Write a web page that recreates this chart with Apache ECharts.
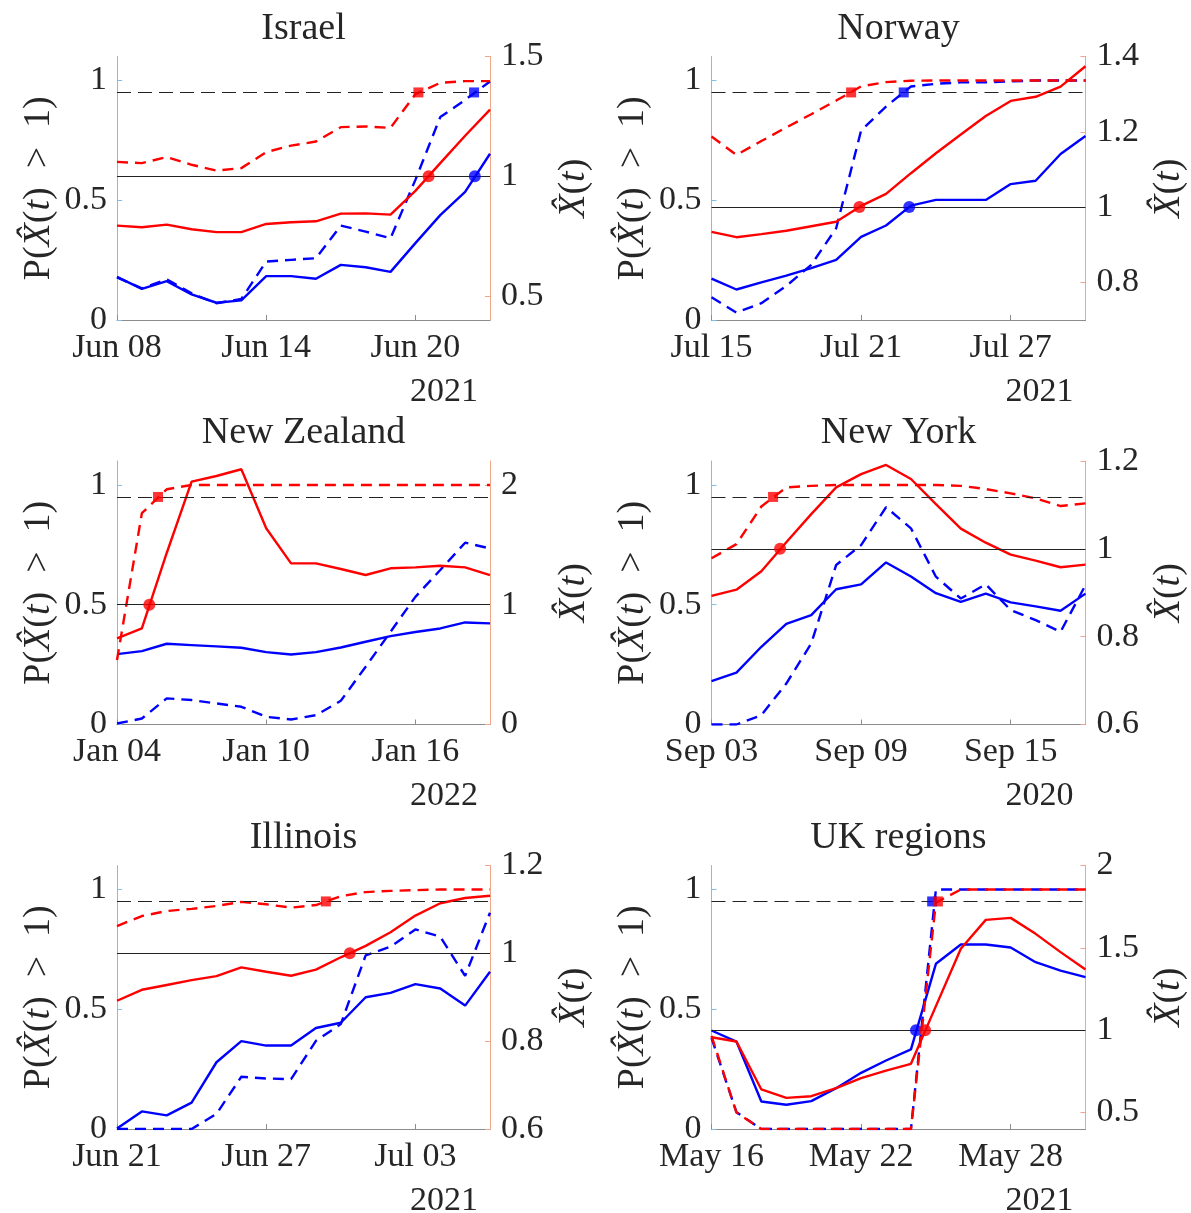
<!DOCTYPE html>
<html><head><meta charset="utf-8">
<script src="https://cdn.jsdelivr.net/npm/echarts@6/dist/echarts.min.js"></script>
<style>html,body{margin:0;padding:0;background:#fff}#c{width:1191px;height:1213px}</style>
</head><body><div id="c"></div>
<script>
// ---------- data (index = day offset from first date) ----------
const xTickDays = [0, 6, 12];
const leftTicks = [0, 0.5, 1];
const probThreshold = 0.95;   // dashed black line, left axis
const rtThreshold = 1;        // solid black line, right axis

// Israel
const israelTicks = ['Jun 08', 'Jun 14', 'Jun 20'];
const israelBlueP = [0.178,0.132,0.170,0.111,0.070,0.088,0.244,0.251,0.258,0.394,0.369,0.341,0.585,0.847,0.919,0.996];
const israelRedP  = [0.660,0.655,0.680,0.648,0.624,0.634,0.701,0.728,0.745,0.805,0.808,0.802,0.943,0.990,0.997,0.997];
const israelBlueX = [0.580,0.530,0.562,0.507,0.472,0.482,0.583,0.583,0.572,0.630,0.620,0.601,0.721,0.838,0.935,1.094];
const israelRedX  = [0.794,0.787,0.798,0.779,0.767,0.767,0.801,0.808,0.812,0.844,0.845,0.840,0.939,1.055,1.169,1.278];
const israelRightTicks = [0.5, 1, 1.5];
const israelBlueSq = [[14.36, 0.95]], israelRedSq = [[12.12, 0.95]];
const israelBlueCirc = [[14.39, 1]], israelRedCirc = [[12.53, 1]];

// Norway
const norwayTicks = ['Jul 15', 'Jul 21', 'Jul 27'];
const norwayBlueP = [0.095,0.031,0.070,0.142,0.230,0.383,0.791,0.891,0.975,0.986,0.992,0.992,0.996,1,1,1];
const norwayRedP  = [0.766,0.689,0.747,0.804,0.859,0.916,0.975,0.993,0.999,1,1,1,1,1,1,1];
const norwayBlueX = [0.810,0.781,0.800,0.818,0.838,0.860,0.921,0.951,1.004,1.019,1.019,1.019,1.061,1.070,1.141,1.189];
const norwayRedX  = [0.934,0.920,0.928,0.937,0.949,0.961,1.003,1.035,1.090,1.143,1.193,1.242,1.282,1.293,1.320,1.374];
const norwayRightTicks = [0.8, 1, 1.2, 1.4];
const norwayBlueSq = [[7.71, 0.95]], norwayRedSq = [[5.6, 0.95]];
const norwayBlueCirc = [[7.93, 1]], norwayRedCirc = [[5.93, 1]];

// New Zealand
const nzTicks = ['Jan 04', 'Jan 10', 'Jan 16'];
const nzBlueP = [0.004,0.025,0.109,0.102,0.088,0.074,0.032,0.021,0.039,0.099,0.241,0.387,0.533,0.645,0.759,0.735];
const nzRedP  = [0.269,0.882,0.982,1,1,1,1,1,1,1,1,1,1,1,1,1];
const nzBlueX = [0.588,0.613,0.674,0.663,0.652,0.641,0.604,0.585,0.604,0.643,0.691,0.738,0.772,0.802,0.852,0.844];
const nzRedX  = [0.719,0.802,1.432,2.028,2.075,2.131,1.638,1.345,1.345,1.298,1.248,1.304,1.312,1.326,1.312,1.248];
const nzRightTicks = [0, 1, 2];
const nzBlueSq = [], nzRedSq = [[1.65, 0.95]];
const nzBlueCirc = [], nzRedCirc = [[1.3, 1]];

// New York
const nyTicks = ['Sep 03', 'Sep 09', 'Sep 15'];
const nyBlueP = [0,0,0.039,0.171,0.338,0.666,0.749,0.907,0.819,0.617,0.526,0.585,0.478,0.436,0.387,0.582];
const nyRedP  = [0.694,0.753,0.910,0.990,0.996,1,1,1,1,1,0.996,0.983,0.965,0.944,0.912,0.923];
const nyBlueX = [0.699,0.718,0.777,0.829,0.849,0.908,0.919,0.969,0.937,0.899,0.879,0.898,0.878,0.869,0.859,0.898];
const nyRedX  = [0.893,0.907,0.949,1.015,1.079,1.140,1.170,1.191,1.159,1.102,1.046,1.014,0.987,0.973,0.958,0.964];
const nyRightTicks = [0.6, 0.8, 1, 1.2];
const nyBlueSq = [], nyRedSq = [[2.47, 0.95]];
const nyBlueCirc = [], nyRedCirc = [[2.75, 1]];

// Illinois
const ilTicks = ['Jun 21', 'Jun 27', 'Jul 03'];
const ilBlueP = [0,0,0,0,0.063,0.218,0.211,0.208,0.368,0.438,0.725,0.761,0.833,0.803,0.639,0.903];
const ilRedP  = [0.847,0.889,0.910,0.919,0.931,0.948,0.938,0.924,0.935,0.972,0.989,0.994,0.997,1,1,1];
const ilBlueX = [0.601,0.640,0.631,0.660,0.752,0.800,0.790,0.790,0.830,0.842,0.900,0.910,0.930,0.920,0.881,0.958];
const ilRedX  = [0.892,0.917,0.928,0.939,0.948,0.968,0.958,0.949,0.963,0.991,1.017,1.048,1.086,1.114,1.126,1.131];
const ilRightTicks = [0.6, 0.8, 1, 1.2];
const ilBlueSq = [], ilRedSq = [[8.4, 0.95]];
const ilBlueCirc = [], ilRedCirc = [[9.36, 1]];

// UK regions
const ukTicks = ['May 16', 'May 22', 'May 28'];
const ukBlueP = [0.38,0.07,0,0,0,0,0,0,0,1,1,1,1,1,1,1];
const ukRedP  = [0.389,0.069,0,0,0,0,0,0,0,0.945,1,1,1,1,1,1];
const ukBlueX = [0.998,0.931,0.567,0.547,0.569,0.648,0.741,0.816,0.883,1.403,1.520,1.520,1.502,1.413,1.362,1.322];
const ukRedX  = [0.957,0.931,0.640,0.589,0.599,0.648,0.709,0.755,0.796,1.146,1.494,1.670,1.682,1.585,1.474,1.368];
const ukRightTicks = [0.5, 1, 1.5, 2];
const ukBlueSq = [[8.85, 0.95]], ukRedSq = [[9.08, 0.95]];
const ukBlueCirc = [[8.2, 1]], ukRedCirc = [[8.57, 1]];

const titles = ['Israel', 'Norway', 'New Zealand', 'New York', 'Illinois', 'UK regions'];
const years  = ['2021', '2021', '2022', '2020', '2021', '2021'];

// ---------- assemble ----------
const panels = [
  {ticks: israelTicks, bP: israelBlueP, rP: israelRedP, bX: israelBlueX, rX: israelRedX, rt: israelRightTicks, rmin: 0.4, rmax: 1.5, bS: israelBlueSq, rS: israelRedSq, bC: israelBlueCirc, rC: israelRedCirc},
  {ticks: norwayTicks, bP: norwayBlueP, rP: norwayRedP, bX: norwayBlueX, rX: norwayRedX, rt: norwayRightTicks, rmin: 0.7, rmax: 1.4, bS: norwayBlueSq, rS: norwayRedSq, bC: norwayBlueCirc, rC: norwayRedCirc},
  {ticks: nzTicks, bP: nzBlueP, rP: nzRedP, bX: nzBlueX, rX: nzRedX, rt: nzRightTicks, rmin: 0, rmax: 2.2, bS: nzBlueSq, rS: nzRedSq, bC: nzBlueCirc, rC: nzRedCirc},
  {ticks: nyTicks, bP: nyBlueP, rP: nyRedP, bX: nyBlueX, rX: nyRedX, rt: nyRightTicks, rmin: 0.6, rmax: 1.2, bS: nyBlueSq, rS: nyRedSq, bC: nyBlueCirc, rC: nyRedCirc},
  {ticks: ilTicks, bP: ilBlueP, rP: ilRedP, bX: ilBlueX, rX: ilRedX, rt: ilRightTicks, rmin: 0.6, rmax: 1.2, bS: ilBlueSq, rS: ilRedSq, bC: ilBlueCirc, rC: ilRedCirc},
  {ticks: ukTicks, bP: ukBlueP, rP: ukRedP, bX: ukBlueX, rX: ukRedX, rt: ukRightTicks, rmin: 0.4, rmax: 2.0, bS: ukBlueSq, rS: ukRedSq, bC: ukBlueCirc, rC: ukRedCirc}
];

const FONT = "'Liberation Serif', 'Times New Roman', serif";
const TXT = '#262626';
const BLUE = '#0000ff', RED = '#ff0000';
const LEFT_AXIS = '#80bfea', RIGHT_AXIS = '#f3a58a', X_AXIS = '#8c8c8c';
const TICK_FS = 34, TITLE_FS = 38, NAME_FS = 38;

const colLeft = [117, 711.5], colWidth = [373, 374];
const rowTop = [56.5, 461, 865.5], plotH = 263.5, rowStep = 404.5;

const rich = {
  n: {fontFamily: FONT, fontSize: NAME_FS, color: TXT},
  i: {fontFamily: FONT, fontSize: NAME_FS, color: TXT, fontStyle: 'italic'}
};
const leftName = '{n|P(}{i|X\u0302}{n|(}{i|t}{n|)\u2002>\u20021)}';
const rightName = '{i|X\u0302}{n|(}{i|t}{n|)}';

const grid = [], xAxis = [], yAxis = [], series = [], title = [];
const lab = (extra) => Object.assign({fontFamily: FONT, fontSize: TICK_FS, color: TXT}, extra);

panels.forEach((p, k) => {
  const c = k % 2, r = Math.floor(k / 2);
  const L = colLeft[c], W = colWidth[c], T = rowTop[r];
  grid.push({left: L, top: T, width: W, height: plotH, containLabel: false});
  xAxis.push({
    gridIndex: k, type: 'value', min: 0, max: 15,
    axisLine: {show: true, onZero: false, lineStyle: {color: X_AXIS, width: 1}},
    axisTick: {show: true, inside: true, length: 5, customValues: xTickDays, lineStyle: {color: X_AXIS}},
    axisLabel: lab({customValues: xTickDays, margin: 11, formatter: v => p.ticks[Math.round(v / 6)] || ''}),
    splitLine: {show: false}
  });
  yAxis.push({
    gridIndex: k, type: 'value', position: 'left', min: 0, max: 1.1,
    axisLine: {show: true, onZero: false, lineStyle: {color: LEFT_AXIS, width: 1}},
    axisTick: {show: true, inside: true, length: 5, customValues: leftTicks, lineStyle: {color: LEFT_AXIS}},
    axisLabel: lab({customValues: leftTicks, margin: 10}),
    splitLine: {show: false},
    name: leftName, nameLocation: 'middle', nameRotate: 90, nameGap: 59,
    nameTextStyle: {fontFamily: FONT, fontSize: NAME_FS, color: TXT, rich: rich}
  });
  yAxis.push({
    gridIndex: k, type: 'value', position: 'right', min: p.rmin, max: p.rmax,
    axisLine: {show: true, onZero: false, lineStyle: {color: RIGHT_AXIS, width: 1}},
    axisTick: {show: true, inside: true, length: 5, customValues: p.rt, lineStyle: {color: RIGHT_AXIS}},
    axisLabel: lab({customValues: p.rt, margin: 11}),
    splitLine: {show: false},
    name: rightName, nameLocation: 'middle', nameRotate: 90, nameGap: 65,
    nameTextStyle: {fontFamily: FONT, fontSize: NAME_FS, color: TXT, rich: rich}
  });
  const li = 2 * k, ri = 2 * k + 1;
  const pts = arr => arr.map((v, i) => [i, v]);
  const line = (data, yi, color, dashed, extra) => Object.assign({
    type: 'line', xAxisIndex: k, yAxisIndex: yi, data: pts(data), symbol: 'none', silent: true,
    lineStyle: {color: color, width: 2.4, type: dashed ? [11, 7] : 'solid'}, z: 3
  }, extra || {});
  series.push(line(p.bP, li, BLUE, true, {
    markLine: {silent: true, symbol: 'none', label: {show: false}, animation: false,
      lineStyle: {color: '#222', width: 1.1, type: [14, 7]}, data: [{yAxis: probThreshold}]}
  }));
  series.push(line(p.bX, ri, BLUE, false, {
    markLine: {silent: true, symbol: 'none', label: {show: false}, animation: false,
      lineStyle: {color: '#222', width: 1.1, type: 'solid'}, data: [{yAxis: rtThreshold}]}
  }));
  series.push(line(p.rP, li, RED, true));
  series.push(line(p.rX, ri, RED, false));
  const mark = (data, yi, color, sym, size) => ({
    type: 'scatter', xAxisIndex: k, yAxisIndex: yi, data: data, symbol: sym, symbolSize: size,
    itemStyle: {color: color}, silent: true, z: 5
  });
  series.push(mark(p.bS, li, BLUE, 'rect', 10));
  series.push(mark(p.rS, li, RED, 'rect', 10));
  series.push(mark(p.bC, ri, BLUE, 'circle', 12));
  series.push(mark(p.rC, ri, RED, 'circle', 12));

  title.push({text: titles[k], left: L + W / 2, top: 10 + r * rowStep, textAlign: 'center', padding: 0,
    textStyle: {fontFamily: FONT, fontSize: TITLE_FS, fontWeight: 'normal', color: TXT}});
  title.push({text: years[k], left: L + W - 12, top: 375 + r * rowStep, textAlign: 'right', padding: 0,
    textStyle: {fontFamily: FONT, fontSize: TICK_FS, fontWeight: 'normal', color: TXT}});
});

const chart = echarts.init(document.getElementById('c'), null, {renderer: 'canvas'});
chart.setOption({animation: false, backgroundColor: '#fff', title, grid, xAxis, yAxis, series});
</script></body></html>
